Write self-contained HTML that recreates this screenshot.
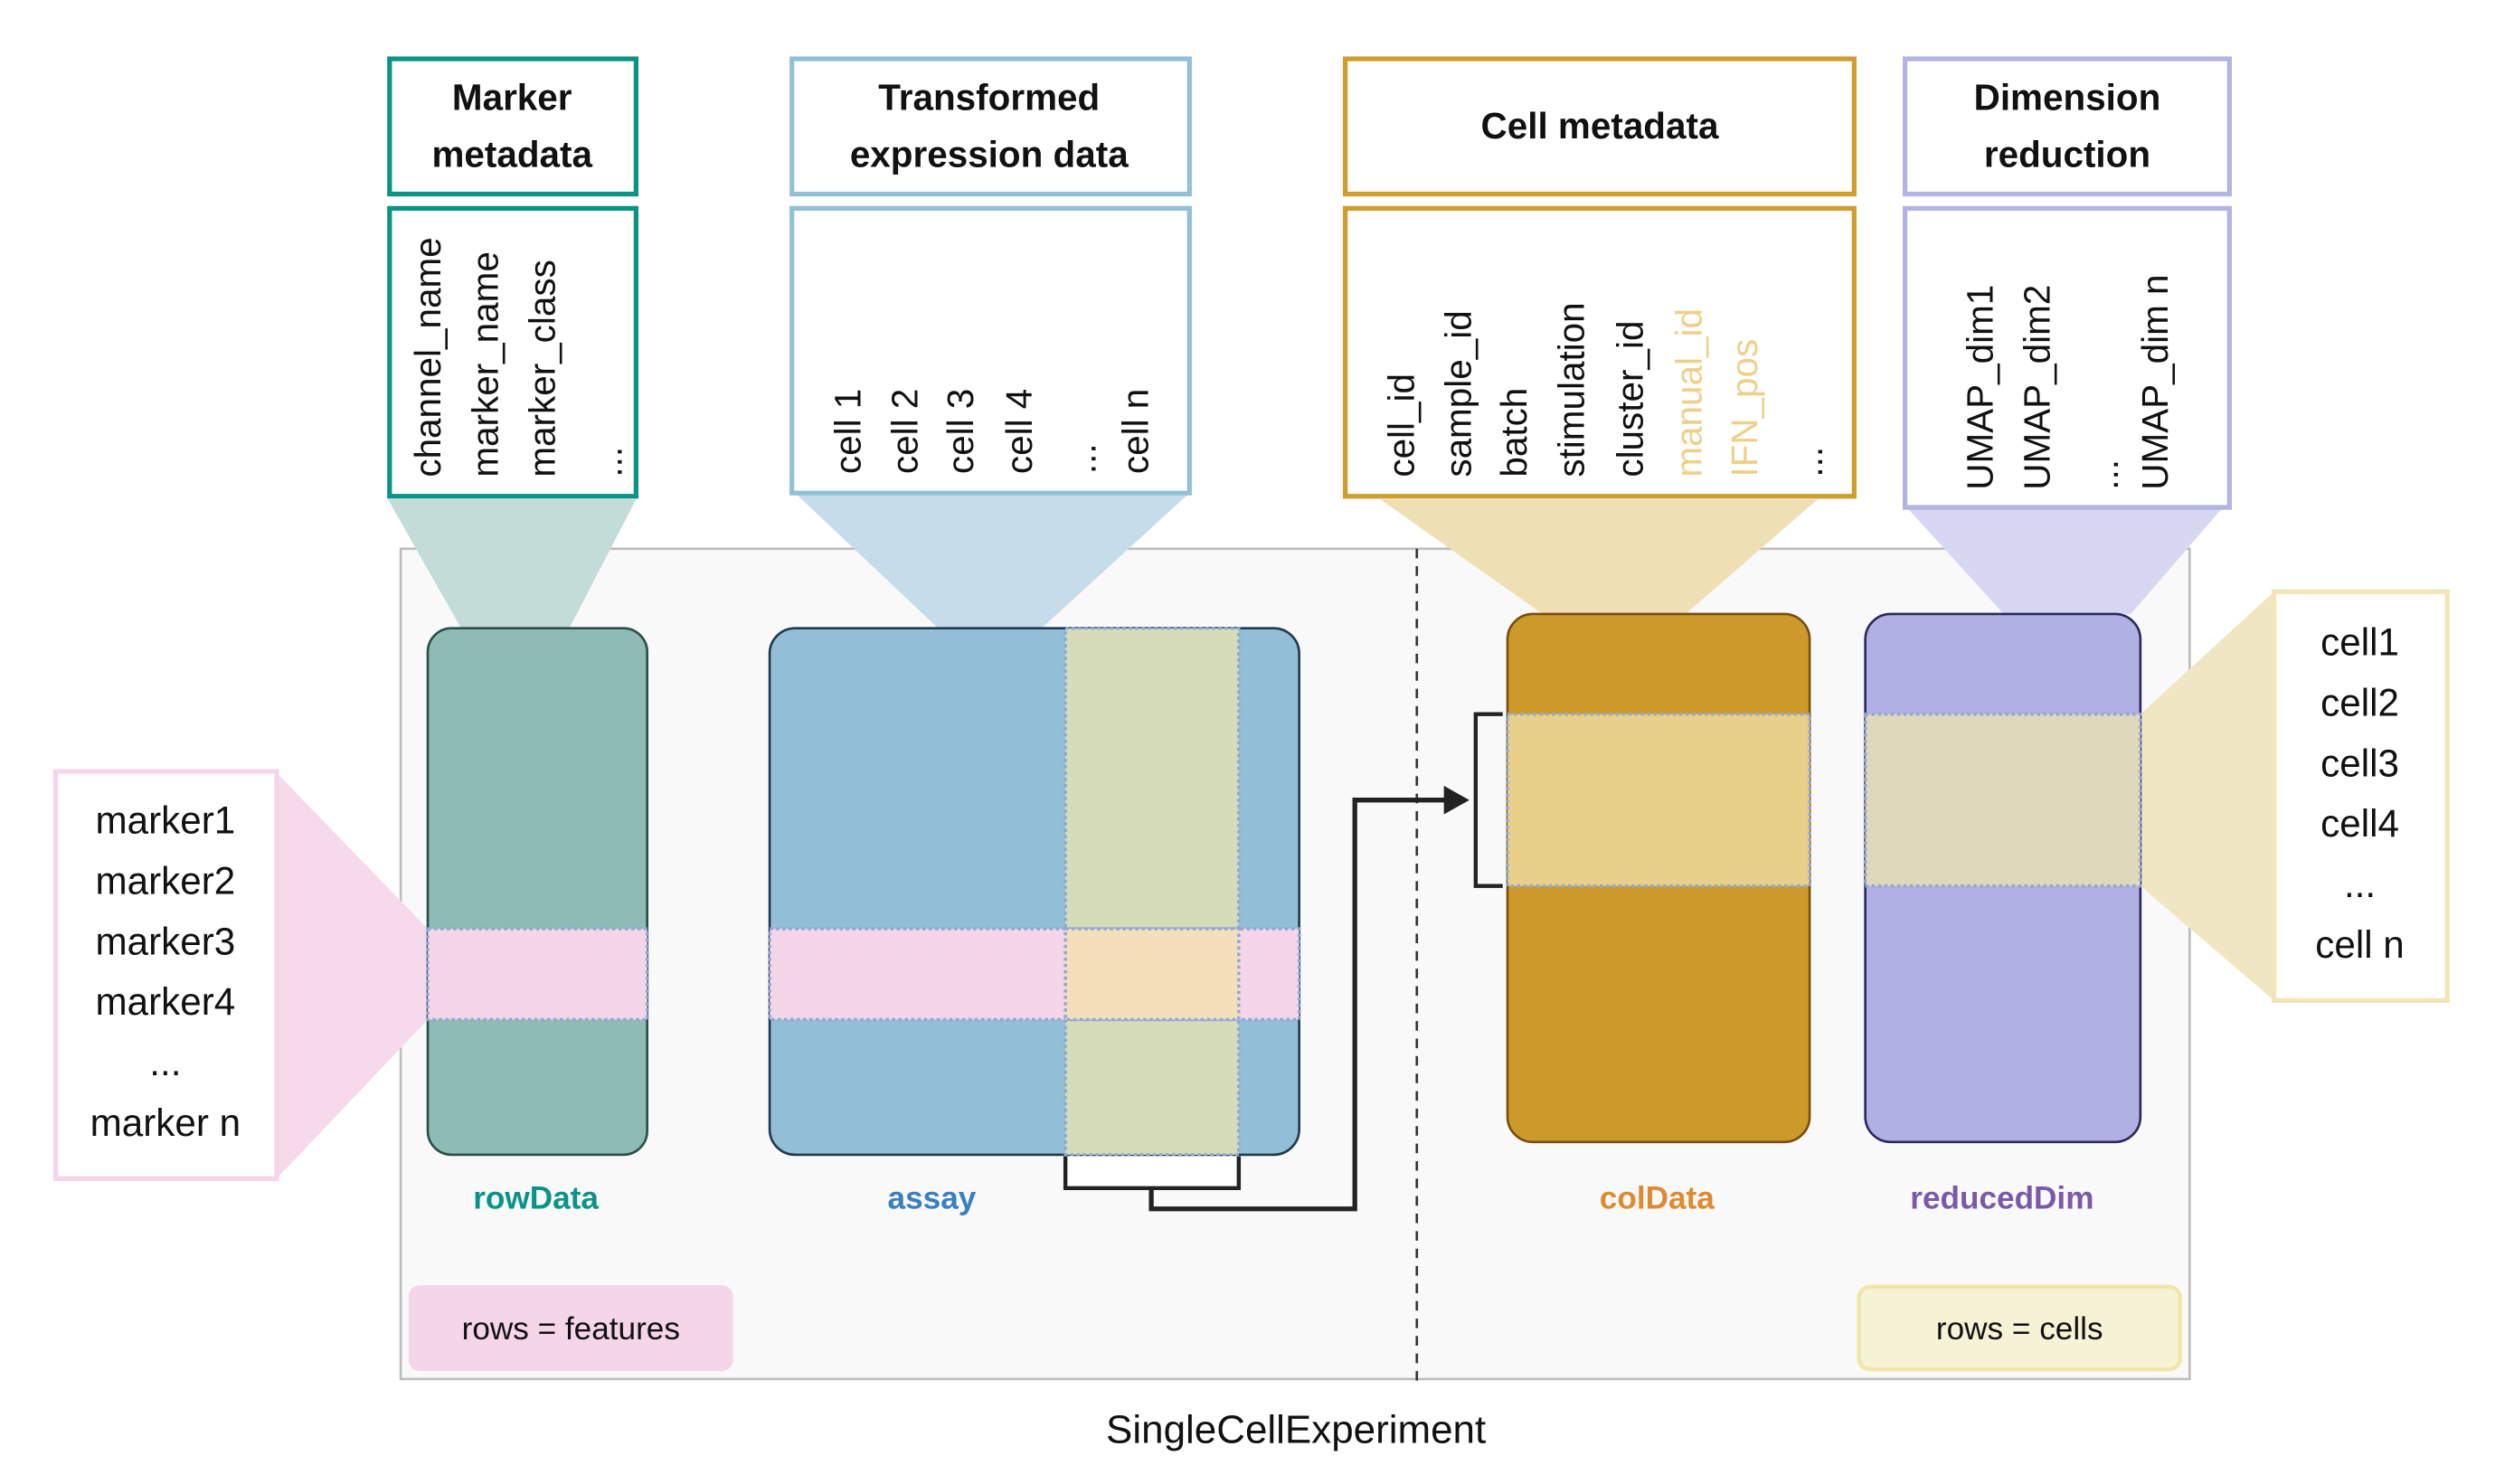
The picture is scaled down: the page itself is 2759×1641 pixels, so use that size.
<!DOCTYPE html>
<html><head><meta charset="utf-8"><style>
html,body{margin:0;padding:0;background:#fff;}
svg{display:block;}
text{font-family:"Liberation Sans",sans-serif;}
</style></head><body>
<svg width="2759" height="1641" viewBox="0 0 1569 933" preserveAspectRatio="none" xmlns="http://www.w3.org/2000/svg">
<rect width="1569" height="933" fill="#fff"/>
<rect x="252" y="345" width="1125" height="522" fill="#f9f9f9" stroke="#bdbdbd" stroke-width="1.5"/>
<polygon points="244,314 400,314 358,395 290,395" fill="#c3dcd8"/>
<polygon points="500,310 748,310 655,395 590,395" fill="#c6dde9"/>
<polygon points="868,314 1143,314 1060,386 970,386" fill="#efdfb5"/>
<polygon points="1200,320 1397,320 1340,386 1260,386" fill="#d7d7f1"/>
<polygon points="174,486 174,741 269,641 269,584" fill="#f6d9ea"/>
<polygon points="1430,372 1430,629 1346,557 1346,449" fill="#f1e6c2"/>
<line x1="891" y1="345" x2="891" y2="872" stroke="#333" stroke-width="1.5" stroke-dasharray="6,5"/>
<g stroke-width="3" fill="#fff">
<rect x="245" y="37" width="155" height="85" stroke="#0a9488"/>
<rect x="245" y="131" width="155" height="181" stroke="#0a9488"/>
<rect x="498" y="37" width="250" height="85" stroke="#93c0d8"/>
<rect x="498" y="131" width="250" height="179" stroke="#93c0d8"/>
<rect x="846" y="37" width="320" height="85" stroke="#d09e2e"/>
<rect x="846" y="131" width="320" height="181" stroke="#d09e2e"/>
<rect x="1198" y="37" width="204" height="85" stroke="#b3b3e4"/>
<rect x="1198" y="131" width="204" height="188" stroke="#b3b3e4"/>
</g>
<g font-weight="bold" font-size="23" text-anchor="middle" fill="#111">
<text x="322" y="69">Marker</text><text x="322" y="105">metadata</text>
<text x="622" y="69">Transformed</text><text x="622" y="105">expression data</text>
<text x="1006" y="87">Cell metadata</text>
<text x="1300" y="69">Dimension</text><text x="1300" y="105">reduction</text>
</g>
<g font-size="23" fill="#111">
<text transform="translate(277,300) rotate(-90)">channel_name</text>
<text transform="translate(313,300) rotate(-90)">marker_name</text>
<text transform="translate(349,300) rotate(-90)">marker_class</text>
<text transform="translate(391,300) rotate(-90)">...</text>
<text transform="translate(541,298) rotate(-90)">cell 1</text>
<text transform="translate(577,298) rotate(-90)">cell 2</text>
<text transform="translate(612,298) rotate(-90)">cell 3</text>
<text transform="translate(649,298) rotate(-90)">cell 4</text>
<text transform="translate(689,298) rotate(-90)">...</text>
<text transform="translate(722,298) rotate(-90)">cell n</text>
<text transform="translate(889,300) rotate(-90)">cell_id</text>
<text transform="translate(925,300) rotate(-90)">sample_id</text>
<text transform="translate(960,300) rotate(-90)">batch</text>
<text transform="translate(996,300) rotate(-90)">stimulation</text>
<text transform="translate(1033,300) rotate(-90)">cluster_id</text>
<text transform="translate(1070,300) rotate(-90)" fill="#eed08a">manual_id</text>
<text transform="translate(1105,300) rotate(-90)" fill="#eed08a">IFN_pos</text>
<text transform="translate(1146,300) rotate(-90)">...</text>
<text transform="translate(1253,308) rotate(-90)">UMAP_dim1</text>
<text transform="translate(1289,308) rotate(-90)">UMAP_dim2</text>
<text transform="translate(1332,308) rotate(-90)">...</text>
<text transform="translate(1363,308) rotate(-90)">UMAP_dim n</text>
</g>
<rect x="269" y="395" width="138" height="331" rx="15" fill="#8fbbb5" stroke="#2a4f4a" stroke-width="1.5"/>
<rect x="269" y="584" width="138" height="57" fill="#f5d5e8" stroke="#8fa8d8" stroke-width="2" stroke-dasharray="2,2"/>
<rect x="484" y="395" width="333" height="331" rx="16" fill="#92bfd6" stroke="#1e3a50" stroke-width="1.5"/>
<rect x="670" y="395" width="109" height="331" fill="#d6dbb8" stroke="#8fa8d8" stroke-width="2" stroke-dasharray="2,2"/>
<rect x="484" y="584" width="333" height="57" fill="#f5d5e8" stroke="#8fa8d8" stroke-width="2" stroke-dasharray="2,2"/>
<rect x="670" y="584" width="109" height="57" fill="#f5dfba" stroke="#8fa8d8" stroke-width="2" stroke-dasharray="2,2"/>
<rect x="948" y="386" width="190" height="332" rx="16" fill="#cc9a2a" stroke="#7a4d10" stroke-width="1.5"/>
<rect x="948" y="449" width="190" height="108" fill="#e8d08a" stroke="#8fa8d8" stroke-width="2" stroke-dasharray="2,2"/>
<rect x="1173" y="386" width="173" height="332" rx="16" fill="#b0b0e2" stroke="#2a2a60" stroke-width="1.5"/>
<rect x="1173" y="449" width="173" height="108" fill="#e0d8ba" stroke="#8fa8d8" stroke-width="2" stroke-dasharray="2,2"/>
<path d="M670,727 V747 H779 V727" fill="#fff" stroke="#222" stroke-width="2.5"/>
<path d="M724,747 V760 H852 V503 H910" fill="none" stroke="#222" stroke-width="3"/>
<polygon points="908,494 924,503 908,512" fill="#222"/>
<path d="M945,449 H928 V557 H945" fill="none" stroke="#222" stroke-width="2.5"/>
<rect x="35" y="485" width="139" height="256" fill="#fff" stroke="#f6d5e9" stroke-width="3"/>
<g font-size="24" text-anchor="middle" fill="#111">
<text x="104" y="524">marker1</text><text x="104" y="562">marker2</text><text x="104" y="600">marker3</text>
<text x="104" y="638">marker4</text><text x="104" y="676">...</text><text x="104" y="714">marker n</text>
</g>
<rect x="1430" y="372" width="109" height="257" fill="#fff" stroke="#f2e6b8" stroke-width="3"/>
<g font-size="24" text-anchor="middle" fill="#111">
<text x="1484" y="412">cell1</text><text x="1484" y="450">cell2</text><text x="1484" y="488">cell3</text>
<text x="1484" y="526">cell4</text><text x="1484" y="564">...</text><text x="1484" y="602">cell n</text>
</g>
<g font-weight="bold" font-size="20" text-anchor="middle">
<text x="337" y="760" fill="#0a9488">rowData</text>
<text x="586" y="760" fill="#3a7fc0">assay</text>
<text x="1042" y="760" fill="#e08a30">colData</text>
<text x="1259" y="760" fill="#7a5aa8">reducedDim</text>
</g>
<rect x="257" y="808" width="204" height="54" rx="7" fill="#f5d5e8"/>
<text x="359" y="842" font-size="20" text-anchor="middle" fill="#111">rows = features</text>
<rect x="1169" y="809" width="202" height="52" rx="7" fill="#f5f2d5" stroke="#f0e6a8" stroke-width="2.5"/>
<text x="1270" y="842" font-size="20" text-anchor="middle" fill="#111">rows = cells</text>
<text x="815" y="907" font-size="25" text-anchor="middle" fill="#111">SingleCellExperiment</text>
</svg>
</body></html>
